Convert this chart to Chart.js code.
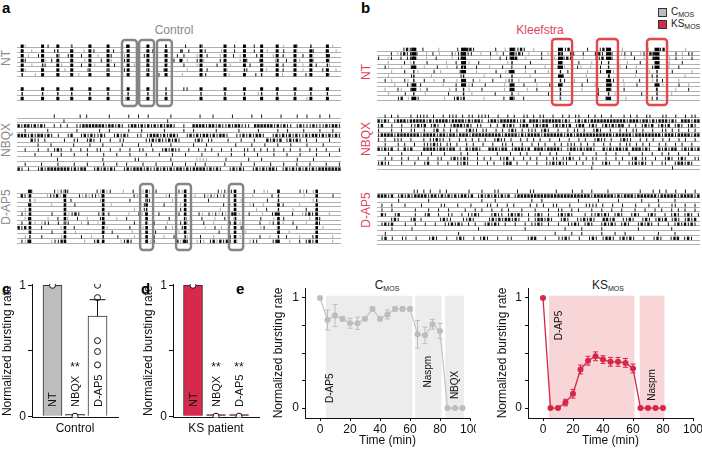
<!DOCTYPE html>
<html>
<head>
<meta charset="utf-8">
<script src="https://cdn.jsdelivr.net/npm/chart.js@4.4.0/dist/chart.umd.min.js"></script>
<style>
  body { margin: 0; width: 702px; height: 455px; position: relative; overflow: hidden; background: #fff;
         font-family: "Liberation Sans", Arial, sans-serif; color: #222; }
  .box { position: absolute; }
  .t { position: absolute; white-space: nowrap; transform: translate(-50%, -50%); }
  .r { position: absolute; white-space: nowrap; transform: translate(-50%, -50%) rotate(-90deg); font-size: 12px; }
  .pl { position: absolute; font-weight: bold; font-size: 15px; color: #000; }
  .sq { position: absolute; width: 7px; height: 7px; border: 1px solid #333; }
  sub { font-size: 7px; vertical-align: -2px; }
</style>
</head>
<body>

<div class="pl" style="left:2px;top:-1px">a</div>
<div class="pl" style="left:361px;top:-1px">b</div>
<div class="pl" style="left:2px;top:280px">c</div>
<div class="pl" style="left:141px;top:280px">d</div>
<div class="pl" style="left:236px;top:280px">e</div>

<div class="t" style="left:174px;top:30px;font-size:12px;color:#8a8a8a">Control</div>
<div class="t" style="left:540px;top:30px;font-size:12px;color:#e0445d">Kleefstra</div>

<div class="sq" style="left:658px;top:8px;background:#bdbdbd"></div>
<div class="sq" style="left:658px;top:20px;background:#d6294b"></div>
<div style="position:absolute;left:671px;top:6px;font-size:10px">C<sub>MOS</sub></div>
<div style="position:absolute;left:671px;top:18px;font-size:10px">KS<sub>MOS</sub></div>

<div class="r" style="left:6px;top:58px;color:#8a8a8a">NT</div>
<div class="r" style="left:6px;top:140px;color:#8a8a8a">NBQX</div>
<div class="r" style="left:6px;top:207px;color:#8a8a8a">D-AP5</div>
<div class="r" style="left:366px;top:72px;color:#e0445d">NT</div>
<div class="r" style="left:366px;top:139px;color:#e0445d">NBQX</div>
<div class="r" style="left:366px;top:210px;color:#e0445d">D-AP5</div>

<div class="t" style="left:387px;top:285px;font-size:12px">C<sub>MOS</sub></div>
<div class="t" style="left:608px;top:285px;font-size:12px">KS<sub>MOS</sub></div>

<div class="box" style="left:17px;top:38px;width:324px;height:70px"><canvas id="aNt"></canvas></div>
<div class="box" style="left:17px;top:110px;width:324px;height:66px"><canvas id="aNbqx"></canvas></div>
<div class="box" style="left:17px;top:182px;width:324px;height:70px"><canvas id="aDap"></canvas></div>
<div class="box" style="left:377px;top:37px;width:323px;height:70px"><canvas id="bNt"></canvas></div>
<div class="box" style="left:377px;top:110px;width:323px;height:66px"><canvas id="bNbqx"></canvas></div>
<div class="box" style="left:377px;top:182px;width:323px;height:70px"><canvas id="bDap"></canvas></div>

<div class="box" style="left:0px;top:278px;width:130px;height:162px"><canvas id="cBar"></canvas></div>
<div class="box" style="left:141px;top:278px;width:130px;height:162px"><canvas id="dBar"></canvas></div>
<div class="box" style="left:271px;top:280px;width:205px;height:172px"><canvas id="eCtrl"></canvas></div>
<div class="box" style="left:495px;top:280px;width:210px;height:172px"><canvas id="eKs"></canvas></div>

<script>
'use strict';

// ---------- raster data (each char = one time bin: '|' spike, '#' dense, ':' faint) ----------
const aNtCols = [1.6, 7.9, 12.6, 16.9, 22.5, 28.1, 34.3, 40.4, 46.0, 50.6, 56.8, 64.2, 70.2, 75.5, 80.3, 85.8, 90.7, 95.8];
const aNtMasks = [
  "222122221022222212", "221222222122222222", "222222222022222222", "222222222222222222",
  "212222222022222221", "222212222022122222", "122222222022212222", null, null,
  "222222221022222222", "111111111011111111", "222222222022222222"
];
const aNtRows = [
  "  :      |      :     |          |           |     |    :         |     |        :   |          :  ",
  " |  :      |    |   :  |     |      :    |     :  | |    |    :   |     |   :    |   :    |   |  : ",
  "   :  |     :  |   |    :   |   :     |     :   | |   :  |   :   | :    |    :  |     |  :    |   ",
  "  |     : |     |   :    |  :   |      |  :    |   :  | :    |     : |   |    :  |   :   |    :   ",
  "    :   |    :     |   :     |     :   |     :    |   :     |   :     |   :     |     :   |   :   ",
  "  :    |      :      |     :    |      :    |      :     |     :     |     :    |     :     |   : ",
  "     :      |     :        |        :     |      :      |      :       |       :      |      :   ",
  null, null,
  " |                                                 ||                           |                   ",
  "                                                                          :                         ",
  "                                 :                                    |                  :          "
];

const aNbqxRows = [
  "           |       | |      |     |  |  |      |        |   |     |     |  |     |    |  |   |  |   ",
  "              |                               |                                                     ",
  "#|##|#|#|  | | |  ||#######|##|#| |##|#|#|#|#|##|  |  ####|##|#||#|##||| ######|#|#|| |#|||#|||#|##|",
  "  |      |        |      |  |     |   |      |     |  |      |      |     |     |  |    |    |   |  ",
  "###|#|##|#| |  |#  |#|#||#|  |#|#|  || |###|#|##|  |#|#|##|#|##|  ||#|#|##|  |#|#|#|#||#|##|#|#|#|",
  "    #|| |     |  ||  |#| |  |  ||      ||#|#||#|#|    |#| ||    |   |   |   #|#|# |#|#| |  |   |   ",
  "      |   |      |    |   |     |    |   |     |      |   |        |    |   |   |   |    |    |     ",
  "  |   |  | |#|  |  | |  ||  |  |  |  ||  |  |#|#||  |  | | |  |  |   || | | | |  | |  |  | |  |   |",
  "     |    |  |   |   |    |   |   |    |   |   |   |    |    |   |   |   |    |   |   |    |   |   ",
  "            |             |         ||         |       ::::     |      |   |          |    |        ",
  "  |    |    |    |   |    |   |  |    |   |    |   |  |  |     |    |   |    |   |   |   |    |   |",
  "#| |  |#|#######|#|##  |#|#|#|  |#|###|#||#|#|#|##|#|####|#|#|  |#|#|  |#|#|##| |#|#|#|#|#|#######"
];

const aDapCols = [4.0, 14.8, 26.6, 40.0, 51.9, 67.3, 80.7, 92.5];
const aDapMasks = [
  "22222222", "22222212", "12222211", "22222222", "22212212", "22222222",
  "22222222", "22222222", "22222222", "22222222", "12121212", "22222222"
];
const aDapRows = [
  "   ||      |:|:|        |:|:|   :  |  : :||      |:|         |:|:|      |  ::         |:| :        ",
  " #|:     :||#:|    |:|:||:|         |:|       :|       :  |:|:|:|     |  :     |         :        |  ",
  "     :          |        :        |    :|      :          |         :       |             :        ",
  "   |      :      |          :        :|     |    :            | :     :|  :     |    :            ",
  "  :           |                    :  |:         |           :      |   :  |       :   |          ",
  " |:       |    :|#|     |: |     :  |:|   |    :|     |: |:|:|:|#|:| |   :  |#    |  :|#||   :   ",
  "  :|     :  |  :  |  :   |    :  |   :        |    :    |   :  |  :       |   :  |       :  |      ",
  " |   : :||  | :|   : |  : |        |   : |   :   | :    |  :    |  :     |  :|  :  |   :   |      ",
  "#|#:   |     :   |         :      |   :      | :  |      :  | :     |     :|   :     |       :     ",
  "   :      |      :          |     :      |      :           |       :         |  :               ",
  "  :    |     :     |  :       |    :     |  :  |   :   |   :    |  :     |  :    |   :   |     :  ",
  " |:#      :||#|     :  |#      :|#|    |:|      #:#|  :|: |#:#|#| : | :||    |#   :  | |#|     :  "
];

const bNtCols = [11.4, 26.8, 41.8, 56.8, 71.7, 86.7];
const bNtMasks = [
  "222222", "222222", "222222", "121212", "221212", "122121",
  "111211", "121121", "222222", "212121", "111111", "212121"
];
const bNtRows = [
  "        |#||  |    :     | |##|      |  :  ||#|  :         |#     |  ||#|    :       |   |#|     :    ",
  "    | :|#|| |  : | :   |:|##||  :  | : |  ||#| :   | :|  :  ||  |   ##|  |  :| |  :| ##|  :  | : ||  ",
  "|  :|  | ||#   :  |    : |#|       :  | |:|#  :    |   :  |#|   :   ||#  |   :  |  :  #|   : | :  |  ",
  "   :    | :    |     :  |   :  |        :      |         :    |   :  |       :   |        :   |     ",
  "  |:   :  ||  :   |  :  | :   |   :   |  :   |     :   | :   |:  :  |     : |  :    |    :  |      ",
  "    :   |   :    | :     |    :     |  :|    :  |   :     |     :   |   :      |   :      |     :  ",
  "   :      |     :        |      :    |        :         |      :      |       :    |         :    ",
  "  | :   |:    |  :  |   :    | :   |   :|  :    |    :   |  :   |  :    |  :    |   :  |    :      ",
  "     :   |:  |      :   |   :|   |     :     |   :   |   :     |   :    |   :   |       :    |  :   ",
  "  :   |:  |  : |      : |   :   |      : |    :  |      :   |  :    |   :   |      :  |     :   |   ",
  "   :    |     :      |      :      |      :        |      :       |    :       |        :        ",
  "      |# :  |       :  |#||     :     |  :  |          :             |     :       |              "
];

const bNbqxRows = [
  "  | | |   | |||| |  | ||| | || ||||  |  | |  || | ||  |  | | ||  | | |  |   | | |  ||   ||  |  | || ",
  "#|#| |###|#####|#|####|####|#|##| |##|#####||# ###|######|#| |#|#|###########|###|##|#|###|#| ###|##",
  "|#  |  |  ||#|# |#| | |###|#| ||  | | #|#| |## |#|## |#|#|# |## |#| |#|#|## | | |#|# |#|# |#| |#| ",
  "|   |  |  ||  |  |# | | |  |#|| ||  | | |#| | ||| |#|  |  | || |  |#|  |  | | || |  |  || | |  | | ",
  "|####|#######|####|##|##|###|#########|####|#|####|######|##|###########|#####|########|###|####|##",
  "| |  |||  |   | ||#|| |  | | | | |  |#|| |  | | | |  |  |  |  | |  |#|| |  |#||  | | |  | |  | |  | ",
  "  |   | |  |  |||#|| || |  | |  |  |  || |  |  | | |  | | ||| | | |  | |  | || | | |  | |  | |  |  ",
  "#|#|# | #|#   ####|##|## | #|##|  ###|## |###|# ###|####| |##|#|##|  #|#|##|# ###|#|  #|#|## |#|#|#",
  "   |   |     |  |   |    | |  |     |   |  | |   |  | |   |   |   |  |  |   |   |  |  | |  |  |   ",
  "  | |  | |  |  |  ||  |#||#|  | | |  ||# |  | | |  | || ||#| | | ||  |  | |  |# ||  |  |#| |#|  ||",
  "|#||   |   |  |#  |  |  ||#|  |  | |  |## |  |  |  ||#|#||  | |  |  |#|  |  ||#|#| |  ||  |##|#|  ",
  "                                                                  |                        |        "
];

const bDapRows = [
  "           || | |  | |      |   |   ||     |   ||      |    |  |  |    |         |   | | |  |  |  | ",
  "###|# |#|#|####|##|#|#|#|##|# |#|#|#|#|# |######################|######|#|###|######|#####|####|#",
  "      |        |               |   |          |  |          |     |     |      |    |    |       ",
  " |  |   |    |     ||   |   |    || |  | |    | | |  ||   |    |||| |  |  |   |   |  |   ||  |  | ",
  " |  |      |   |  |  |    |  | |  |  | |   |   |   |  ||  | |   |  |  |  |   |  |  | |  | | |  | ",
  " #|  |#    |  |#  |  ||  | ||#|   |#|| |#|#| | |#| |  |#|#|   | ||#|#| |#|  |#|  |#|  | |#| |#| |",
  "    |#|   |# |     |#||   ||#|    |#|#|##|#|  | |##|#|  |#|  ||#|#|  ##|#  ||#|  |#| |#|# |#| |#|# ",
  " |#|#   |  |  |  |  ||#|#| | |  |#|#| |  |  | ||#| |  |  ||#| |#|  |#|#| |#|  |#|#| |  | |#|#|#| ",
  "    |     |                   |             |           |    |     |          |         |        ",
  "  |                     |                            |    |  |     |   |  |         |    |       ",
  " |# |  ||  |   |#|  |  |#|  | |#|  |  ||    |##  |   ||#|  |  |#| |##| |#|#|  |  |#|  |## |#|  ",
  "                                                                                                    "
];

// ---------- bar charts (c, d) ----------
const barNames = ['NT', 'NBQX', 'D-AP5'];
const ctrlMeans = [1, 0.015, 0.765];
const ctrlErrUp = [0, 0, 0.125];
const ctrlDots = [[1], [0], [1.0, 0.906, 0.577, 0.494, 0.392]];
const ctrlStars = ['', '**', ''];
const ksMeans = [1, 0.012, 0.012];
const ksErrUp = [0, 0, 0];
const ksDots = [[1], [0], [0]];
const ksStars = ['', '**', '**'];
const barTicks = [0, 0.5, 1];

// ---------- time courses (e) ----------
const ctrlTime = [0, 5, 10, 15, 20, 25, 30, 35, 40, 45, 50, 55, 60, 65, 70, 75, 80, 85, 90, 95];
const ctrlRate = [1.0, 0.80, 0.84, 0.81, 0.77, 0.77, 0.81, 0.90, 0.81, 0.85, 0.90, 0.90, 0.90, 0.67, 0.66, 0.76, 0.70, 0, 0, 0];
const ctrlErr  = [0, 0.09, 0.10, 0.02, 0.045, 0.055, 0.02, 0.02, 0.02, 0.04, 0.02, 0.02, 0.02, 0.125, 0.075, 0.045, 0.07, 0, 0, 0];
const ctrlDrugFrom = [4, 63.5, 83.5];
const ctrlDrugTo = [61.5, 81, 96];
const ctrlDrugs = ['D-AP5', 'Naspm', 'NBQX'];

const ksTime = [0, 5, 10, 15, 20, 25, 30, 35, 40, 45, 50, 55, 60, 65, 70, 75, 80];
const ksRate = [1, 0, 0, 0.05, 0.13, 0.35, 0.43, 0.47, 0.44, 0.42, 0.42, 0.41, 0.36, 0, 0, 0, 0];
const ksErr  = [0, 0, 0, 0.03, 0.04, 0.04, 0.04, 0.04, 0.035, 0.04, 0.04, 0.04, 0.04, 0, 0, 0, 0];
const ksDrugFrom = [4, 64.5];
const ksDrugTo = [61, 81];
const ksDrugs = ['D-AP5', 'Naspm'];

const xTicks = [0, 10, 20, 30, 40, 50, 60, 70, 80, 90, 100];
const yTicks = [0, 0.25, 0.5, 0.75, 1];

Chart.defaults.font.family = '"Liberation Sans", Arial, sans-serif';
Chart.defaults.font.size = 12;
Chart.defaults.color = '#222';
Chart.defaults.animation = false;
Chart.defaults.plugins.legend.display = false;
Chart.defaults.plugins.tooltip.enabled = false;

function noPad(s) { s.paddingLeft = 0; s.paddingRight = 0; s.paddingTop = 0; s.paddingBottom = 0; }

function tickSet(data, w, color) {
  return {
    data: data, showLine: false, pointStyle: 'line', pointRotation: 90, pointRadius: 1.7, pointHoverRadius: 1.7,
    pointBorderWidth: w, pointBorderColor: color, pointBackgroundColor: color
  };
}

function makeRaster(id, rows, masks, cols, look) {
  const thin = [], thick = [], faint = [], big = [], small = [];
  rows.forEach(function (s, r) {
    if (!s) return;
    const y = r - 0.37;
    for (let i = 0; i < s.length; i++) {
      const p = {x: (i + 0.5) * 100 / s.length, y: y};
      if (s[i] === '|') thin.push(p);
      else if (s[i] === '#') thick.push(p);
      else if (s[i] === ':') faint.push(p);
    }
    const m = masks ? masks[r] : null;
    if (!m) return;
    for (let k = 0; k < m.length; k++) {
      if (m[k] === '2') big.push({x: cols[k], y: y});
      else if (m[k] === '1') small.push({x: cols[k], y: y});
    }
  });

  const boxPlugin = {
    id: 'boxes',
    afterDatasetsDraw(chart) {
      if (!look.boxes) return;
      const c = chart.ctx, xs = chart.scales.x, a = chart.chartArea;
      c.save();
      c.strokeStyle = look.boxColor;
      c.lineWidth = 2.4;
      look.boxes.forEach(function (b) {
        const x0 = xs.getPixelForValue(b[0]), x1 = xs.getPixelForValue(b[1]);
        c.beginPath();
        c.roundRect(x0, a.top + 2, x1 - x0, a.bottom - a.top - 4, 3);
        c.stroke();
      });
      c.restore();
    }
  };

  return new Chart(document.getElementById(id), {
    type: 'scatter',
    data: {
      datasets: [
        tickSet(faint, 1, '#a8a8a8'),
        tickSet(thin, 1, '#111'),
        tickSet(thick, 2.4, '#111'),
        tickSet(small, 1.4, '#111'),
        tickSet(big, look.burstW, '#000')
      ]
    },
    options: {
      responsive: true, maintainAspectRatio: false,
      layout: {padding: 0, autoPadding: false},
      scales: {
        x: {type: 'linear', min: 0, max: 100, display: false},
        y: {
          type: 'linear', reverse: true, min: look.yMin, max: look.yMax,
          afterBuildTicks: function (s) { s.ticks = rows.map(function (_, i) { return {value: i}; }); },
          afterFit: function (s) { s.width = 0; noPad(s); },
          ticks: {display: false},
          border: {display: false},
          grid: {
            drawTicks: false, tickLength: 0, lineWidth: 0.8,
            color: function (ctx) { return ctx.tick && rows[ctx.tick.value] ? '#9c9c9c' : 'rgba(0,0,0,0)'; }
          }
        }
      }
    },
    plugins: [boxPlugin]
  });
}

makeRaster('aNt', aNtRows, aNtMasks, aNtCols,
  {yMin: -2.1, yMax: 12.63, burstW: 3, boxes: [[32.4, 37.0], [37.7, 42.3], [43.2, 47.8]], boxColor: '#858585'});
makeRaster('aNbqx', aNbqxRows, null, [], {yMin: -1.67, yMax: 12.08, burstW: 3});
makeRaster('aDap', aDapRows, aDapMasks, aDapCols,
  {yMin: -2.42, yMax: 12.98, burstW: 2.6, boxes: [[38.0, 42.0], [49.1, 53.7], [65.4, 69.8]], boxColor: '#858585'});
makeRaster('bNt', bNtRows, bNtMasks, bNtCols,
  {yMin: -3.15, yMax: 12.57, burstW: 5, boxes: [[54.2, 60.4], [68.1, 74.6], [83.6, 89.8]], boxColor: '#e2474d'});
makeRaster('bNbqx', bNbqxRows, null, [], {yMin: -1.7, yMax: 12.34, burstW: 3});
makeRaster('bDap', bDapRows, null, [], {yMin: -2.34, yMax: 12.55, burstW: 3});

// ---------- c and d ----------
function makeBars(id, means, errUp, dots, stars, fills, title, xMin, xMax, yW) {
  const dotPts = [];
  dots.forEach(function (list, i) { list.forEach(function (v) { dotPts.push({x: i + 1, y: v}); }); });

  const notes = {
    id: 'notes',
    afterDatasetsDraw(chart) {
      const c = chart.ctx, xs = chart.scales.x, ys = chart.scales.y;
      c.save();
      c.fillStyle = '#111';
      c.strokeStyle = '#111';
      c.lineWidth = 1;
      barNames.forEach(function (name, i) {
        const x = xs.getPixelForValue(i + 1);
        if (errUp[i] > 0) {
          const y0 = ys.getPixelForValue(means[i]), y1 = ys.getPixelForValue(means[i] + errUp[i]);
          c.beginPath();
          c.moveTo(x, y0); c.lineTo(x, y1);
          c.moveTo(x - 8, y1); c.lineTo(x + 8, y1);
          c.stroke();
        }
        c.save();
        c.translate(x + 4, ys.getPixelForValue(0.07));
        c.rotate(-Math.PI / 2);
        c.font = '11px "Liberation Sans", Arial, sans-serif';
        c.textAlign = 'left';
        c.textBaseline = 'alphabetic';
        c.fillText(name, 0, 0);
        c.restore();
        if (stars[i]) {
          c.font = '12px "Liberation Sans", Arial, sans-serif';
          c.textAlign = 'center';
          c.textBaseline = 'middle';
          c.fillText(stars[i], x, ys.getPixelForValue(0.37));
        }
      });
      c.restore();
    }
  };

  return new Chart(document.getElementById(id), {
    type: 'bar',
    data: {
      datasets: [
        {type: 'scatter', data: dotPts, order: 0, pointRadius: 3, pointBorderWidth: 1,
         pointBackgroundColor: '#fff', pointBorderColor: '#111'},
        {data: means.map(function (v, i) { return {x: i + 1, y: v}; }), order: 1,
         backgroundColor: fills, borderColor: '#333', borderWidth: 1, barThickness: 19}
      ]
    },
    options: {
      responsive: true, maintainAspectRatio: false,
      layout: {padding: {left: 0, top: 6, right: 12, bottom: 0}, autoPadding: false},
      scales: {
        x: {
          type: 'linear', min: xMin, max: xMax, offset: false,
          afterFit: function (s) { s.height = 22.5; noPad(s); },
          ticks: {display: false},
          grid: {display: false, offset: false},
          border: {color: '#111', width: 1},
          title: {display: true, text: title, font: {size: 12}, color: '#111', padding: {top: 0, bottom: 4}}
        },
        y: {
          min: -0.01, max: 1.01,
          afterBuildTicks: function (s) { s.ticks = barTicks.map(function (v) { return {value: v}; }); },
          afterFit: function (s) { s.width = yW; noPad(s); },
          ticks: {padding: 2, color: '#111', callback: function (v) { return v === 0 ? '0' : v === 1 ? '1' : ''; }},
          grid: {drawOnChartArea: false, tickLength: 4, tickColor: '#111'},
          border: {color: '#111', width: 1},
          title: {display: true, text: 'Normalized bursting rate', font: {size: 12}, color: '#111', padding: 0}
        }
      }
    },
    plugins: [notes]
  });
}

makeBars('cBar', ctrlMeans, ctrlErrUp, ctrlDots, ctrlStars, ['#bdbdbd', '#cfcfcf', '#ffffff'], 'Control', 0.09, 3.91, 32);
makeBars('dBar', ksMeans, ksErrUp, ksDots, ksStars, ['#d6294b', '#a04a4a', '#a04a4a'], 'KS patient', 0.13, 3.87, 32);

// ---------- e ----------
function makeCourse(id, time, rate, err, from, to, drugs, labelAt, dotColor, lineColor, shade, yW, padRight) {
  const deco = {
    id: 'deco',
    beforeDatasetsDraw(chart) {
      const c = chart.ctx, xs = chart.scales.x, ys = chart.scales.y, a = chart.chartArea;
      c.save();
      c.fillStyle = shade;
      from.forEach(function (f, i) {
        const x0 = xs.getPixelForValue(f), x1 = xs.getPixelForValue(to[i]);
        const top = ys.getPixelForValue(1.02);
        c.fillRect(x0, top, x1 - x0, a.bottom - top);
      });
      c.fillStyle = '#111';
      c.font = '10px "Liberation Sans", Arial, sans-serif';
      c.textAlign = 'center';
      c.textBaseline = 'middle';
      drugs.forEach(function (d, i) {
        c.save();
        c.translate(xs.getPixelForValue(labelAt[i][0]), ys.getPixelForValue(labelAt[i][1]));
        c.rotate(-Math.PI / 2);
        c.fillText(d, 0, 0);
        c.restore();
      });
      c.strokeStyle = dotColor;
      c.lineWidth = 1;
      time.forEach(function (t, i) {
        if (!err[i]) return;
        const x = xs.getPixelForValue(t);
        const y0 = ys.getPixelForValue(rate[i] - err[i]), y1 = ys.getPixelForValue(rate[i] + err[i]);
        c.beginPath();
        c.moveTo(x, y0); c.lineTo(x, y1);
        c.moveTo(x - 2.5, y0); c.lineTo(x + 2.5, y0);
        c.moveTo(x - 2.5, y1); c.lineTo(x + 2.5, y1);
        c.stroke();
      });
      c.restore();
    }
  };

  return new Chart(document.getElementById(id), {
    type: 'line',
    data: {
      datasets: [{
        data: time.map(function (t, i) { return {x: t, y: rate[i]}; }),
        borderColor: lineColor, borderWidth: 1.3, pointRadius: 3, pointBorderWidth: 0,
        pointBackgroundColor: dotColor, tension: 0
      }]
    },
    options: {
      responsive: true, maintainAspectRatio: false,
      layout: {padding: {left: 0, top: 8, right: padRight, bottom: 0}, autoPadding: false},
      scales: {
        x: {
          type: 'linear', min: -10, max: 100,
          afterBuildTicks: function (s) { s.ticks = xTicks.map(function (v) { return {value: v}; }); },
          afterFit: function (s) { s.height = 34; noPad(s); },
          ticks: {padding: 1, color: '#111', maxRotation: 0,
                  callback: function (v) { return v % 20 === 0 ? String(v) : ''; }},
          grid: {drawOnChartArea: false, tickLength: 3, tickColor: '#111'},
          border: {color: '#111', width: 1},
          title: {display: true, text: 'Time (min)', font: {size: 12}, color: '#111', padding: {top: 0, bottom: 4}}
        },
        y: {
          min: -0.09, max: 1.09,
          afterBuildTicks: function (s) { s.ticks = yTicks.map(function (v) { return {value: v}; }); },
          afterFit: function (s) { s.width = yW; noPad(s); },
          ticks: {padding: 3, color: '#111', callback: function (v) { return v === 0 ? '0' : v === 1 ? '1' : ''; }},
          grid: {drawOnChartArea: false, tickLength: 3, tickColor: '#111'},
          border: {color: '#111', width: 1},
          title: {display: true, text: 'Normalized bursting rate', font: {size: 12}, color: '#111', padding: 0}
        }
      }
    },
    plugins: [deco]
  });
}

makeCourse('eCtrl', ctrlTime, ctrlRate, ctrlErr, ctrlDrugFrom, ctrlDrugTo, ctrlDrugs,
  [[7, 0.18], [72, 0.33], [90, 0.21]], '#bdbdbd', '#c6c6c6', '#ececec', 34, 6);
makeCourse('eKs', ksTime, ksRate, ksErr, ksDrugFrom, ksDrugTo, ksDrugs,
  [[11, 0.75], [73, 0.21]], '#d6264a', '#d6264a', '#f8d5d6', 33, 12);
</script>
</body>
</html>
